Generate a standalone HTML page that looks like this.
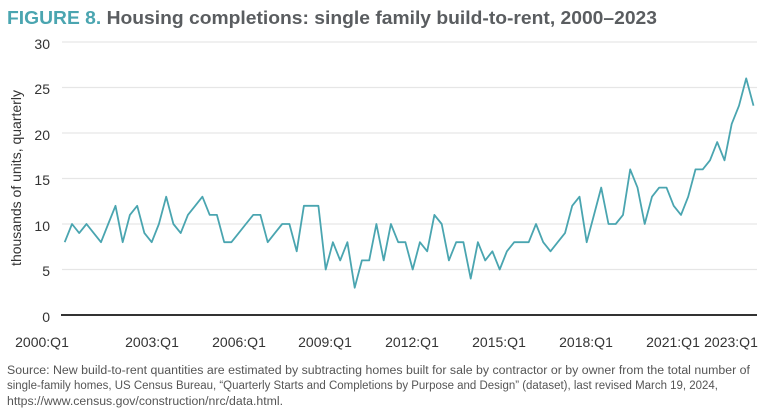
<!DOCTYPE html>
<html><head><meta charset="utf-8"><style>
html,body{margin:0;padding:0;background:#fff;width:768px;height:419px;overflow:hidden}
svg{display:block;font-family:"Liberation Sans",sans-serif}
</style></head><body>
<svg id="s" width="768" height="419" viewBox="0 0 768 419" xmlns="http://www.w3.org/2000/svg">
<text x="7" y="24" font-size="18.5" font-weight="bold" fill="#5a5d60" textLength="650" lengthAdjust="spacingAndGlyphs"><tspan fill="#4aa5b0">FIGURE 8.</tspan> Housing completions: single family build-to-rent, 2000–2023</text>
<g stroke="#e6e6e6" stroke-width="1.2">
<line x1="62" y1="42" x2="757" y2="42"/><line x1="62" y1="87.5" x2="757" y2="87.5"/><line x1="62" y1="133" x2="757" y2="133"/><line x1="62" y1="178.5" x2="757" y2="178.5"/><line x1="62" y1="224" x2="757" y2="224"/><line x1="62" y1="269.5" x2="757" y2="269.5"/>
</g>
<line x1="61" y1="315" x2="757" y2="315" stroke="#333" stroke-width="2"/>
<g font-size="14" fill="#333" text-anchor="end">
<text x="50" y="49">30</text><text x="50" y="94">25</text><text x="50" y="140">20</text><text x="50" y="185">15</text><text x="50" y="231">10</text><text x="50" y="276">5</text><text x="50" y="322">0</text>
</g>
<text transform="translate(21,178) rotate(-90)" font-size="14" fill="#333" text-anchor="middle">thousands of units, quarterly</text>
<g font-size="14" fill="#333" text-anchor="middle">
<text x="42" y="347">2000:Q1</text><text x="152" y="347">2003:Q1</text><text x="239" y="347">2006:Q1</text><text x="325" y="347">2009:Q1</text><text x="412" y="347">2012:Q1</text><text x="499" y="347">2015:Q1</text><text x="586" y="347">2018:Q1</text><text x="673" y="347">2021:Q1</text><text x="731" y="347">2023:Q1</text>
</g>
<polyline id="p" fill="none" stroke="#4aa5b0" stroke-width="1.8" stroke-linejoin="round" points=""/>
<g font-size="11.5" fill="#555">
<text x="7" y="374" textLength="743" lengthAdjust="spacingAndGlyphs">Source: New build-to-rent quantities are estimated by subtracting homes built for sale by contractor or by owner from the total number of</text>
<text x="7" y="389" textLength="711" lengthAdjust="spacingAndGlyphs">single-family homes, US Census Bureau, “Quarterly Starts and Completions by Purpose and Design” (dataset), last revised March 19, 2024,</text>
<text x="7" y="405" textLength="276" lengthAdjust="spacingAndGlyphs">https://www.census.gov/construction/nrc/data.html.</text>
</g>
</svg>
<script>
var v=[8,10,9,10,9,8,10,12,8,11,12,9,8,10,13,10,9,11,12,13,11,11,8,8,9,10,11,11,8,9,10,10,7,12,12,12,5,8,6,8,3,6,6,10,6,10,8,8,5,8,7,11,10,6,8,8,4,8,6,7,5,7,8,8,8,10,8,7,8,9,12,13,8,11,14,10,10,11,16,14,10,13,14,14,12,11,13,16,16,17,19,17,21,23,26,23];
var p=v.map(function(d,i){return (64.7+i*7.25).toFixed(1)+","+(315-d*9.1).toFixed(1)}).join(" ");
document.getElementById("p").setAttribute("points",p);
</script>
</body></html>
